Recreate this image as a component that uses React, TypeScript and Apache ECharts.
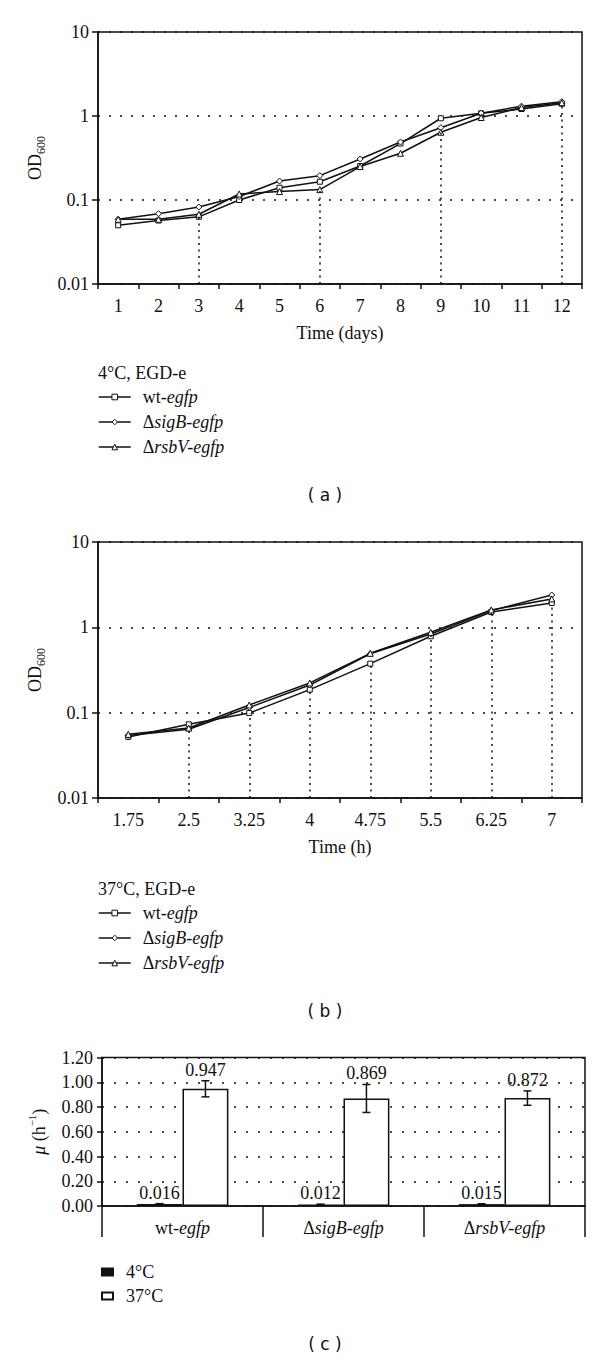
import React, { useEffect, useRef } from 'react';
import * as echarts from 'echarts';

// ---------- data ----------
const daysA = ['1', '2', '3', '4', '5', '6', '7', '8', '9', '10', '11', '12'];
const wtA = [0.05, 0.057, 0.063, 0.1, 0.14, 0.165, 0.254, 0.47, 0.94, 1.077, 1.21, 1.4];
const sigBA = [0.059, 0.0687, 0.0825, 0.11, 0.168, 0.195, 0.308, 0.49, 0.726, 1.08, 1.31, 1.48];
const rsbVA = [0.0589, 0.0589, 0.0676, 0.118, 0.126, 0.133, 0.25, 0.36, 0.64, 0.96, 1.26, 1.44];
const dropA = ['3', '6', '9', '12'];

const hoursB = ['1.75', '2.5', '3.25', '4', '4.75', '5.5', '6.25', '7'];
const wtB = [0.052, 0.073, 0.099, 0.186, 0.375, 0.785, 1.51, 1.93];
const sigBB = [0.054, 0.064, 0.115, 0.211, 0.49, 0.835, 1.57, 2.39];
const rsbVB = [0.0557, 0.066, 0.123, 0.223, 0.496, 0.874, 1.6, 2.15];
const dropB = ['2.5', '3.25', '4', '4.75', '5.5', '6.25', '7'];

const strainNames = ['wt-egfp', 'ΔsigB-egfp', 'ΔrsbV-egfp'];
const strainsC = ['wt-egfp', 'ΔsigB-egfp', 'ΔrsbV-egfp'];
const mu4 = [0.016, 0.012, 0.015];
const err4 = [0.003, 0.003, 0.003];
const mu37 = [0.947, 0.869, 0.872];
const err37 = [0.065, 0.113, 0.058];
const tempNames = ['4°C', '37°C'];

// ---------- style ----------
const SERIF = '"Liberation Serif", "Times New Roman", serif';
const SANS = '"DejaVu Sans", sans-serif';
const INK = '#111';
const FS = 18;
const BAR_FRAC = 0.285;

const richLabel = (name: string) => {
  if (name.startsWith('wt-')) return 'wt-{i|' + name.slice(3) + '}';
  if (name.startsWith('Δ')) return 'Δ{i|' + name.slice(1) + '}';
  return name;
};
const italicRich = { i: { fontStyle: 'italic', fontFamily: SERIF, fontSize: FS, color: INK } };

const logFmt = (v: number) => String(Number(v.toPrecision(2)));

function dropLines(cats: string[], drops: string[], arrs: number[][], floor: number) {
  return drops.map((c) => {
    const i = cats.indexOf(c);
    const v = Math.min(...arrs.map((a) => a[i]));
    return [{ coord: [i, floor] }, { coord: [i, v] }];
  });
}

function lineSeries(name: string, data: number[], symbol: string, idx: number, mark?: any) {
  return {
    type: 'line',
    name,
    data,
    xAxisIndex: idx,
    yAxisIndex: idx,
    symbol,
    symbolSize: symbol === 'rect' ? 5 : 6,
    showSymbol: true,
    z: 4,
    emphasis: { disabled: true },
    itemStyle: { color: '#fff', borderColor: INK, borderWidth: 1 },
    lineStyle: { color: INK, width: 1.5 },
    markLine: mark,
  };
}

function odAxes(idx: number, cats: string[], xName: string) {
  const xAxis = {
    type: 'category',
    gridIndex: idx,
    data: cats,
    boundaryGap: true,
    name: xName,
    nameLocation: 'middle',
    nameGap: 40,
    nameTextStyle: { fontFamily: SERIF, fontSize: FS, color: INK },
    axisLine: { show: true, lineStyle: { color: INK, width: 1.5 } },
    axisTick: { show: true, length: 5, lineStyle: { color: INK, width: 1.5 } },
    axisLabel: { interval: 0, fontFamily: SERIF, fontSize: FS, color: INK, margin: 13 },
    splitLine: { show: false },
  };
  const yAxis = {
    type: 'log',
    gridIndex: idx,
    logBase: 10,
    min: 0.01,
    max: 10,
    name: '{a|OD}{b|600}',
    nameLocation: 'middle',
    nameRotate: 90,
    nameGap: 46,
    nameTextStyle: {
      fontFamily: SERIF,
      fontSize: FS,
      color: INK,
      rich: {
        a: { fontFamily: SERIF, fontSize: FS, color: INK, lineHeight: 24, verticalAlign: 'middle' },
        b: { fontFamily: SERIF, fontSize: 12, color: INK, lineHeight: 24, verticalAlign: 'bottom' },
      },
    },
    axisLine: { show: true, lineStyle: { color: INK, width: 1.5 } },
    axisTick: { show: true, length: 6, lineStyle: { color: INK, width: 1.5 } },
    minorTick: { show: false },
    axisLabel: { fontFamily: SERIF, fontSize: FS, color: INK, margin: 9, formatter: logFmt },
    splitLine: { show: true, lineStyle: { type: [2, 9], color: INK, width: 1.5 } },
  };
  return { xAxis, yAxis };
}

function errSeries(name: string, vals: number[], errs: number[], side: number) {
  return {
    type: 'custom',
    name,
    xAxisIndex: 2,
    yAxisIndex: 2,
    z: 6,
    silent: true,
    data: vals.map((v, i) => [i, v, errs[i]]),
    encode: { x: 0, y: 1 },
    renderItem: (_params: any, api: any) => {
      const i = api.value(0);
      const v = api.value(1);
      const e = api.value(2);
      const bw = api.size([1, 0])[0] * BAR_FRAC;
      const cx = api.coord([i, v])[0] + (side * bw) / 2;
      const yTop = api.coord([i, v + e])[1];
      const yBot = api.coord([i, Math.max(0, v - e)])[1];
      const cap = 4;
      const st = { stroke: INK, lineWidth: 1.5 };
      return {
        type: 'group',
        children: [
          { type: 'line', shape: { x1: cx, y1: yTop, x2: cx, y2: yBot }, style: st },
          { type: 'line', shape: { x1: cx - cap, y1: yTop, x2: cx + cap, y2: yTop }, style: st },
          { type: 'line', shape: { x1: cx - cap, y1: yBot, x2: cx + cap, y2: yBot }, style: st },
          {
            type: 'text',
            style: {
              text: v.toFixed(3),
              x: cx,
              y: yTop - 2,
              align: 'center',
              verticalAlign: 'bottom',
              fontFamily: SERIF,
              fontSize: FS,
              fill: INK,
            },
          },
        ],
      };
    },
  };
}

function lineLegend(top: number) {
  return {
    orient: 'vertical',
    left: 98,
    top,
    padding: 0,
    itemWidth: 32,
    itemHeight: 7,
    itemGap: 7,
    selectedMode: false,
    data: strainNames,
    itemStyle: { color: '#fff', borderColor: INK, borderWidth: 1 },
    lineStyle: { color: INK, width: 1.5 },
    formatter: (n: string) => richLabel(n),
    textStyle: { fontFamily: SERIF, fontSize: FS, color: INK, lineHeight: 18, padding: [0, 0, 0, 7], rich: italicRich },
  };
}

const captionText = (text: string, x: number, y: number, align: string, font: string, size: number) => ({
  type: 'text',
  x,
  y,
  silent: true,
  style: { text, align, verticalAlign: 'middle', fontFamily: font, fontSize: size, fill: INK },
});

export default function App() {
  const ref = useRef<HTMLDivElement>(null);
  useEffect(() => {
    if (!ref.current) return;
    const chart = echarts.init(ref.current, null, { renderer: 'svg' });
    const a = odAxes(0, daysA, 'Time (days)');
    const b = odAxes(1, hoursB, 'Time (h)');
    const markStyle = (data: any) => ({
      silent: true,
      symbol: ['none', 'none'],
      label: { show: false },
      emphasis: { disabled: true },
      lineStyle: { type: [2, 4.5], color: INK, width: 1.5 },
      data,
    });
    const option: any = {
      animation: false,
      backgroundColor: '#fff',
      grid: [
        { left: 98, right: 18, top: 32, height: 252, show: true, borderColor: INK, borderWidth: 1.5, backgroundColor: 'transparent' },
        { left: 98, right: 18, top: 542, height: 256, show: true, borderColor: INK, borderWidth: 1.5, backgroundColor: 'transparent' },
        { left: 102, right: 15, top: 1057.5, height: 148.5, show: true, borderColor: INK, borderWidth: 1.5, backgroundColor: 'transparent' },
      ],
      xAxis: [
        a.xAxis,
        b.xAxis,
        {
          type: 'category',
          gridIndex: 2,
          data: strainsC,
          boundaryGap: true,
          axisLine: { show: true, lineStyle: { color: INK, width: 1.5 } },
          axisTick: { show: true, length: 31, lineStyle: { color: INK, width: 1.5 } },
          axisLabel: {
            interval: 0,
            margin: 13,
            fontFamily: SERIF,
            fontSize: FS,
            color: INK,
            formatter: (n: string) => richLabel(n),
            rich: italicRich,
          },
          splitLine: { show: false },
        },
      ],
      yAxis: [
        a.yAxis,
        b.yAxis,
        {
          type: 'value',
          gridIndex: 2,
          min: 0,
          max: 1.2,
          interval: 0.2,
          name: '{m|μ} (h{s|−1})',
          nameLocation: 'middle',
          nameRotate: 90,
          nameGap: 48,
          nameTextStyle: {
            fontFamily: SERIF,
            fontSize: FS,
            color: INK,
            lineHeight: 24,
            rich: {
              m: { fontFamily: SERIF, fontSize: FS, fontStyle: 'italic', color: INK, lineHeight: 24 },
              s: { fontFamily: SERIF, fontSize: 11, color: INK, lineHeight: 24, verticalAlign: 'top' },
            },
          },
          axisLine: { show: true, lineStyle: { color: INK, width: 1.5 } },
          axisTick: { show: true, length: 5, lineStyle: { color: INK, width: 1.5 } },
          axisLabel: { fontFamily: SERIF, fontSize: FS, color: INK, margin: 9, formatter: (v: number) => v.toFixed(2) },
          splitLine: { show: true, lineStyle: { type: [2, 10], color: INK, width: 1.5 } },
        },
      ],
      legend: [
        lineLegend(388),
        lineLegend(904),
        {
          orient: 'vertical',
          left: 101,
          top: 1263,
          padding: 0,
          itemWidth: 11,
          itemHeight: 7,
          itemGap: 6,
          selectedMode: false,
          data: tempNames,
          icon: 'rect',
          textStyle: { fontFamily: SERIF, fontSize: FS, color: INK, lineHeight: 18, padding: [0, 0, 0, 8] },
        },
      ],
      series: [
        lineSeries(strainNames[0], wtA, 'rect', 0, markStyle(dropLines(daysA, dropA, [wtA, sigBA, rsbVA], 0.01))),
        lineSeries(strainNames[1], sigBA, 'diamond', 0),
        lineSeries(strainNames[2], rsbVA, 'triangle', 0),
        lineSeries(strainNames[0], wtB, 'rect', 1, markStyle(dropLines(hoursB, dropB, [wtB, sigBB, rsbVB], 0.01))),
        lineSeries(strainNames[1], sigBB, 'diamond', 1),
        lineSeries(strainNames[2], rsbVB, 'triangle', 1),
        {
          type: 'bar',
          name: tempNames[0],
          xAxisIndex: 2,
          yAxisIndex: 2,
          data: mu4,
          barWidth: BAR_FRAC * 100 + '%',
          barGap: '0%',
          emphasis: { disabled: true },
          itemStyle: { color: INK, borderColor: INK, borderWidth: 1 },
        },
        {
          type: 'bar',
          name: tempNames[1],
          xAxisIndex: 2,
          yAxisIndex: 2,
          data: mu37,
          barWidth: BAR_FRAC * 100 + '%',
          barGap: '0%',
          emphasis: { disabled: true },
          itemStyle: { color: '#fff', borderColor: INK, borderWidth: 1.5 },
        },
        errSeries('err4', mu4, err4, -1),
        errSeries('err37', mu37, err37, 1),
      ],
      graphic: [
        captionText('4°C, EGD-e', 98, 373, 'left', SERIF, FS),
        captionText('( a )', 325, 495, 'center', SANS, 17),
        captionText('37°C, EGD-e', 98, 889, 'left', SERIF, FS),
        captionText('( b )', 325, 1011, 'center', SANS, 17),
        captionText('( c )', 325, 1344, 'center', SANS, 17),
      ],
    };
    chart.setOption(option);
    return () => chart.dispose();
  }, []);
  return <div ref={ref} style={{ position: 'absolute', left: 0, top: 0, width: 600, height: 1360 }} />;
}
